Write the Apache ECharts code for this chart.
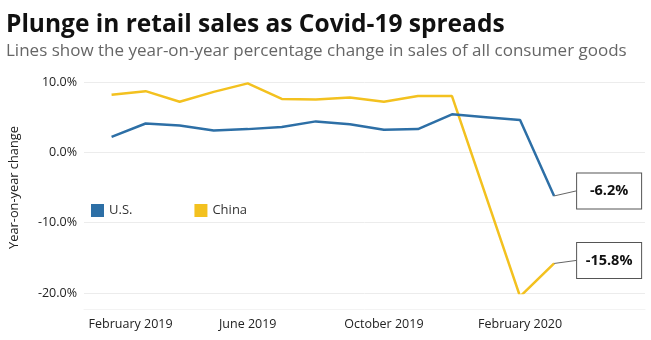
<!DOCTYPE html>
<html>
<head>
<meta charset="utf-8">
<script src="https://cdn.jsdelivr.net/npm/echarts@6/dist/echarts.min.js"></script>
<style>
  html, body { margin: 0; padding: 0; background: #fff; }
  #chart { width: 651px; height: 340px; }
</style>
</head>
<body>
<div id="chart"></div>
<script>
// Monthly year-on-year change in retail sales of consumer goods (%)
const months = [
  'February 2019', 'March 2019', 'April 2019', 'May 2019', 'June 2019',
  'July 2019', 'August 2019', 'September 2019', 'October 2019',
  'November 2019', 'December 2019', 'January 2020', 'February 2020', 'March 2020'
];
const usValues = [2.2, 4.1, 3.8, 3.1, 3.3, 3.6, 4.4, 4.0, 3.2, 3.3, 5.4, 5.0, 4.6, -6.2];
const chinaValues = [8.2, 8.7, 7.2, 8.6, 9.8, 7.6, 7.5, 7.8, 7.2, 8.0, 8.0, null, -20.5, -15.8];
const xTickMonths = ['February 2019', 'June 2019', 'October 2019', 'February 2020'];

const US_COLOR = '#2d6fa6';
const CN_COLOR = '#f3c11f';
const FONT = '"Open Sans", Lato, sans-serif';

// Boxed call-out for the latest reading of each series
function calloutLabel(v) {
  return {
    show: true,
    position: 'right',
    distance: 0,
    formatter: '{v|' + v.toFixed(1) + '%}',
    backgroundColor: '#fff',
    borderColor: '#555',
    borderWidth: 1,
    padding: [9, 8],
    rich: {
      v: { width: 48, align: 'center', fontSize: 14.5, fontWeight: 'bold', color: '#111', fontFamily: FONT, lineHeight: 17 }
    }
  };
}

function toPoints(values) {
  const last = values.length - 1;
  return values.map((v, i) => {
    if (i === last) {
      return {
        value: [i, v],
        label: calloutLabel(v),
        labelLine: { show: true, lineStyle: { color: '#666', width: 1 } }
      };
    }
    return [i, v];
  });
}

const chart = echarts.init(document.getElementById('chart'), null, { renderer: 'canvas' });

chart.setOption({
  animation: false,
  backgroundColor: '#fff',
  title: {
    text: 'Plunge in retail sales as Covid-19 spreads',
    subtext: 'Lines show the year-on-year percentage change in sales of all consumer goods',
    left: 1,
    top: 8,
    itemGap: 5,
    textStyle: { fontFamily: FONT, fontSize: 24.5, fontWeight: 'bold', color: '#111' },
    subtextStyle: { fontFamily: FONT, fontSize: 17, color: '#666' }
  },
  legend: {
    left: 86,
    top: 199,
    itemWidth: 13,
    itemHeight: 13,
    itemGap: 62,
    icon: 'rect',
    textStyle: { fontFamily: FONT, fontSize: 13, color: '#333' },
    data: ['U.S.', 'China']
  },
  grid: { left: 77, right: 6, top: 82, bottom: 47 },
  xAxis: {
    type: 'value',
    min: -0.81,
    max: 15.67,
    axisLine: { show: true, onZero: false, lineStyle: { color: '#f3f3f3' } },
    offset: 16,
    axisTick: { show: false },
    splitLine: { show: false },
    axisLabel: {
      customValues: xTickMonths.map(m => months.indexOf(m)),
      margin: 9,
      fontFamily: FONT,
      fontSize: 12.5,
      color: '#222',
      formatter: v => {
        const name = months[Math.round(v)];
        return Math.round(v) === 0 ? '{first|' + name + '}' : name;
      },
      rich: { first: { padding: [0, 0, 0, 38], fontFamily: FONT, fontSize: 12.5, color: '#222' } }
    }
  },
  yAxis: {
    type: 'value',
    min: -20,
    max: 10,
    interval: 10,
    name: 'Year-on-year change',
    nameLocation: 'middle',
    nameGap: 63,
    nameTextStyle: { fontFamily: FONT, fontSize: 12.8, color: '#222' },
    axisLine: { show: false },
    axisTick: { show: false },
    axisLabel: {
      margin: 7,
      fontFamily: FONT,
      fontSize: 12.5,
      color: '#222',
      formatter: v => v.toFixed(1) + '%'
    },
    splitLine: {
      lineStyle: { color: '#ececec', width: 1 }
    }
  },
  series: [
    {
      name: 'U.S.',
      type: 'line',
      data: toPoints(usValues),
      symbol: 'circle',
      symbolSize: 0,
      showSymbol: true,
      color: US_COLOR,
      lineStyle: { width: 2.5, color: US_COLOR },
      labelLayout: { dx: 23, dy: -5 },
      z: 3
    },
    {
      name: 'China',
      type: 'line',
      data: toPoints(chinaValues),
      connectNulls: true,
      symbol: 'circle',
      symbolSize: 0,
      showSymbol: true,
      color: CN_COLOR,
      lineStyle: { width: 2.5, color: CN_COLOR },
      labelLayout: { dx: 23, dy: -3 },
      z: 2
    }
  ]
});
</script>
</body>
</html>
